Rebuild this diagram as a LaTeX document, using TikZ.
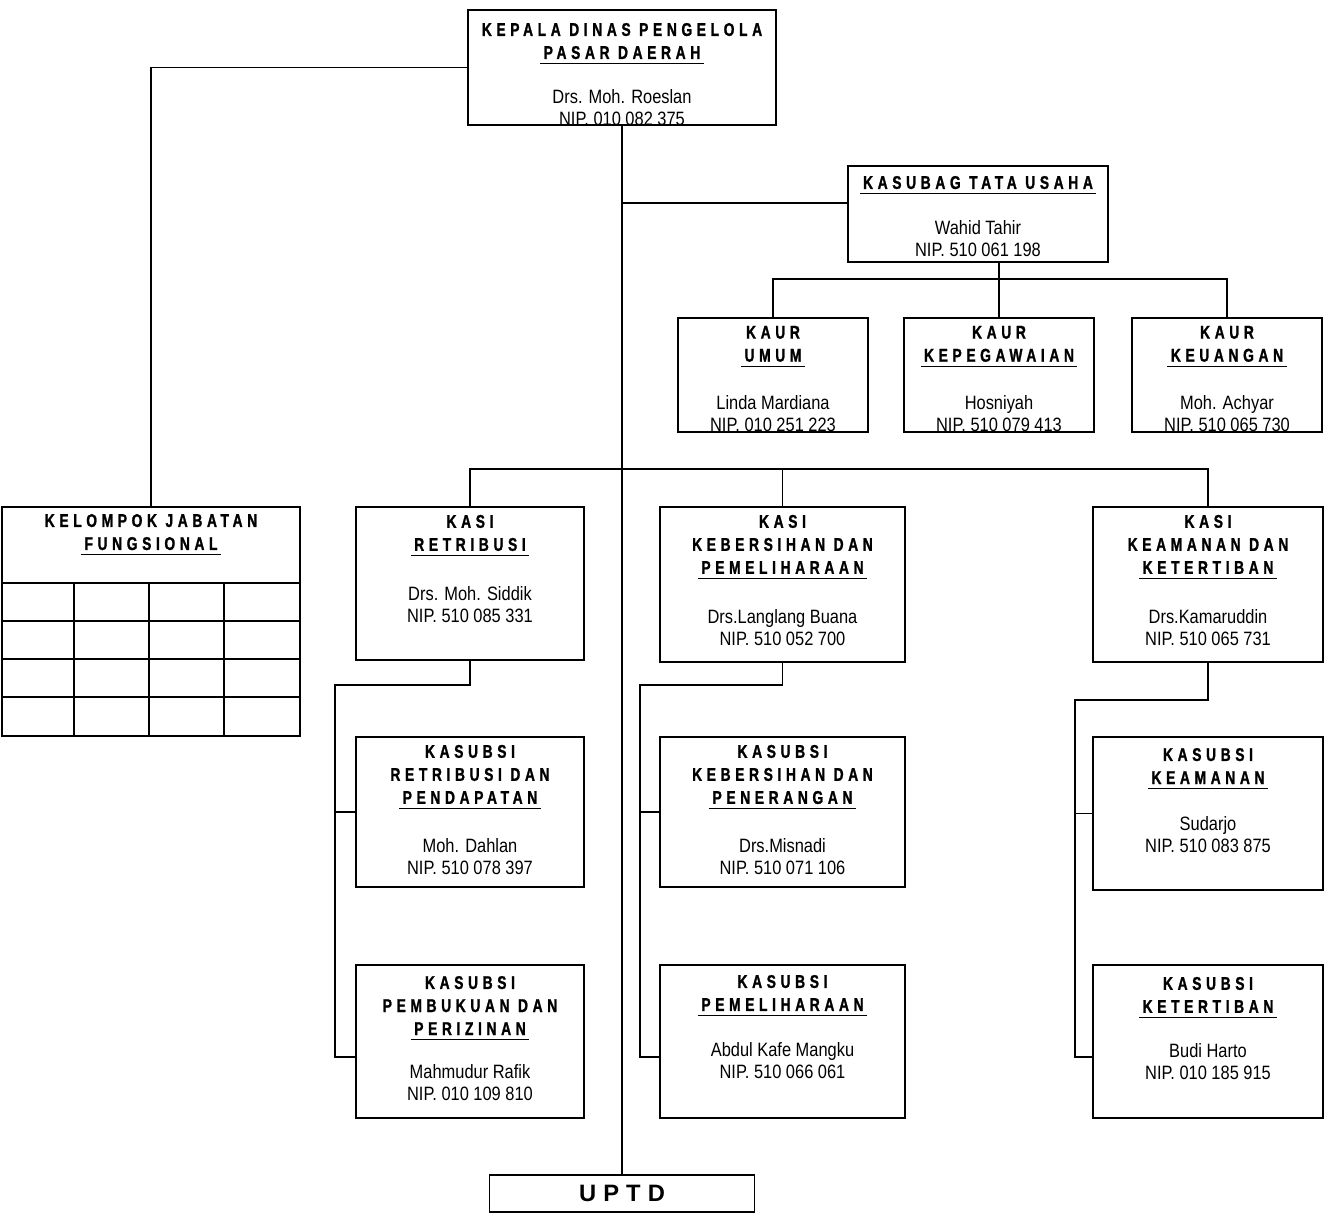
\documentclass[tikz,border=0pt]{standalone}
\usepackage{fontspec}
\setmainfont{Liberation Sans}
\newfontfamily\ttlfont[FakeStretch=0.75,FakeBold=1.2,LetterSpace=25]{Liberation Sans Bold}
\newfontfamily\nmfont[FakeStretch=0.85]{Liberation Sans}
\newfontfamily\uptdfont[LetterSpace=30]{Liberation Sans Bold}
\usepackage{tikz}
\tikzstyle{orgbox} = [rectangle, draw=black, line width=1pt, inner sep=0pt, fill=white]
\tikzstyle{line} = [line width=1pt]

\newsavebox{\ulbox}
\newcommand{\ulab}[1]{\leavevmode\sbox{\ulbox}{\hspace{2pt}#1\hspace{2pt}}\rlap{\raisebox{-3pt}[0pt][0pt]{\rule{\wd\ulbox}{0.8pt}}}\usebox{\ulbox}}
\newcommand{\orgtext}[6]{\begin{minipage}[c][#2][t]{#1}\centering
\vspace*{#3}{\ttlfont\fontsize{10.5}{13.1}\selectfont #4\par}
\vspace{#5}{\nmfont\fontsize{11}{12.5}\selectfont #6\par}\end{minipage}}

\begin{document}
\begin{tikzpicture}[x=0.02cm, y=-0.02cm]
\useasboundingbox (0,0) rectangle (1328,1215);
\node (kepala) [orgbox] at (622,67.5) {\orgtext{6.16cm}{2.3cm}{7.4pt}{KEPALA DINAS PENGELOLA\\\ulab{PASAR DAERAH}}{12.8pt}{Drs. Moh. Roeslan\\NIP. 010 082 375}};
\node (kasubag) [orgbox] at (978,214) {\orgtext{5.2cm}{1.92cm}{5.7pt}{\ulab{KASUBAG TATA USAHA}}{13.7pt}{Wahid Tahir\\NIP. 510 061 198}};
\node (kaur1) [orgbox] at (773,375) {\orgtext{3.8cm}{2.28cm}{4.5pt}{KAUR\\\ulab{UMUM}}{14.5pt}{Linda Mardiana\\NIP. 010 251 223}};
\node (kaur2) [orgbox] at (999,375) {\orgtext{3.8cm}{2.28cm}{4.5pt}{KAUR\\\ulab{KEPEGAWAIAN}}{14.5pt}{Hosniyah\\NIP. 510 079 413}};
\node (kaur3) [orgbox] at (1227,375) {\orgtext{3.8cm}{2.28cm}{4.5pt}{KAUR\\\ulab{KEUANGAN}}{14.5pt}{Moh. Achyar\\NIP. 510 065 730}};
\node (kjf) [orgbox] at (151,621.5) {\orgtext{5.96cm}{4.58cm}{4pt}{KELOMPOK JABATAN\\\ulab{FUNGSIONAL}}{0pt}{}};
\node (kasi1) [orgbox] at (470,583.5) {\orgtext{4.56cm}{3.06cm}{4.5pt}{KASI\\\ulab{RETRIBUSI}}{15.8pt}{Drs. Moh. Siddik\\NIP. 510 085 331}};
\node (kasi2) [orgbox] at (782.5,584.5) {\orgtext{4.9cm}{3.1cm}{4.5pt}{KASI\\KEBERSIHAN DAN\\\ulab{PEMELIHARAAN}}{15.8pt}{Drs.Langlang Buana\\NIP. 510 052 700}};
\node (kasi3) [orgbox] at (1208,584.5) {\orgtext{4.6cm}{3.1cm}{4.5pt}{KASI\\KEAMANAN DAN\\\ulab{KETERTIBAN}}{15.8pt}{Drs.Kamaruddin\\NIP. 510 065 731}};
\node (sub21) [orgbox] at (470,812) {\orgtext{4.56cm}{3cm}{4.5pt}{KASUBSI\\RETRIBUSI DAN\\\ulab{PENDAPATAN}}{15.2pt}{Moh. Dahlan\\NIP. 510 078 397}};
\node (sub22) [orgbox] at (782.5,812) {\orgtext{4.9cm}{3cm}{4.5pt}{KASUBSI\\KEBERSIHAN DAN\\\ulab{PENERANGAN}}{15.2pt}{Drs.Misnadi\\NIP. 510 071 106}};
\node (sub23) [orgbox] at (1208,813.5) {\orgtext{4.6cm}{3.06cm}{6.3pt}{KASUBSI\\\ulab{KEAMANAN}}{14.2pt}{Sudarjo\\NIP. 510 083 875}};
\node (sub31) [orgbox] at (470,1041.5) {\orgtext{4.56cm}{3.06cm}{6.3pt}{KASUBSI\\PEMBUKUAN DAN\\\ulab{PERIZINAN}}{12pt}{Mahmudur Rafik\\NIP. 010 109 810}};
\node (sub32) [orgbox] at (782.5,1041.5) {\orgtext{4.9cm}{3.06cm}{5.7pt}{KASUBSI\\\ulab{PEMELIHARAAN}}{13.7pt}{Abdul Kafe Mangku\\NIP. 510 066 061}};
\node (sub33) [orgbox] at (1208,1041.5) {\orgtext{4.6cm}{3.06cm}{6.8pt}{KASUBSI\\\ulab{KETERTIBAN}}{13.1pt}{Budi Harto\\NIP. 010 185 915}};
\node (uptd) [orgbox, minimum width=5.3cm, minimum height=0.74cm] at (622,1193.5) {\uptdfont\fontsize{13.5}{14}\selectfont UPTD};

% table inside kelompok jabatan fungsional
\draw [line] (2,583) -- (300,583) (2,621) -- (300,621) (2,659) -- (300,659) (2,697) -- (300,697)
  (74,583) -- (74,736) (149,583) -- (149,736) (224,583) -- (224,736);

\coordinate (ktop) at (622,203);
\coordinate (ra) at (335,685);
\coordinate (rb) at (335,1057);
\coordinate (ba) at (640,685);
\coordinate (bb) at (640,1057);
\coordinate (ka) at (1075,700);
\coordinate (kb) at (1075,1057);

\draw [line] (kepala.south) -- (uptd.north);
\draw [line] (kepala.west) -| (kjf.north);
\draw [line] (ktop) -- (ktop -| kasubag.west);
\draw [line] (kasubag.south -| kaur2.north) -- (kaur2.north);
\draw [line] (kaur1.north) -- ++(0,-38) -| (kaur3.north);
\draw [line] (kasi1.north) -- ++(0,-37) -| (kasi3.north);
\draw [line] (kasi2.north) -- ++(0,-37);
\draw [line] (kasi1.south) |- (ra) -- (rb) -- (rb -| sub31.west);
\draw [line] (ra |- sub21.west) -- (sub21.west);
\draw [line] (kasi2.south) |- (ba) -- (bb) -- (bb -| sub32.west);
\draw [line] (ba |- sub22.west) -- (sub22.west);
\draw [line] (kasi3.south) |- (ka) -- (kb) -- (kb -| sub33.west);
\draw [line] (ka |- sub23.west) -- (sub23.west);
\end{tikzpicture}
\end{document}
